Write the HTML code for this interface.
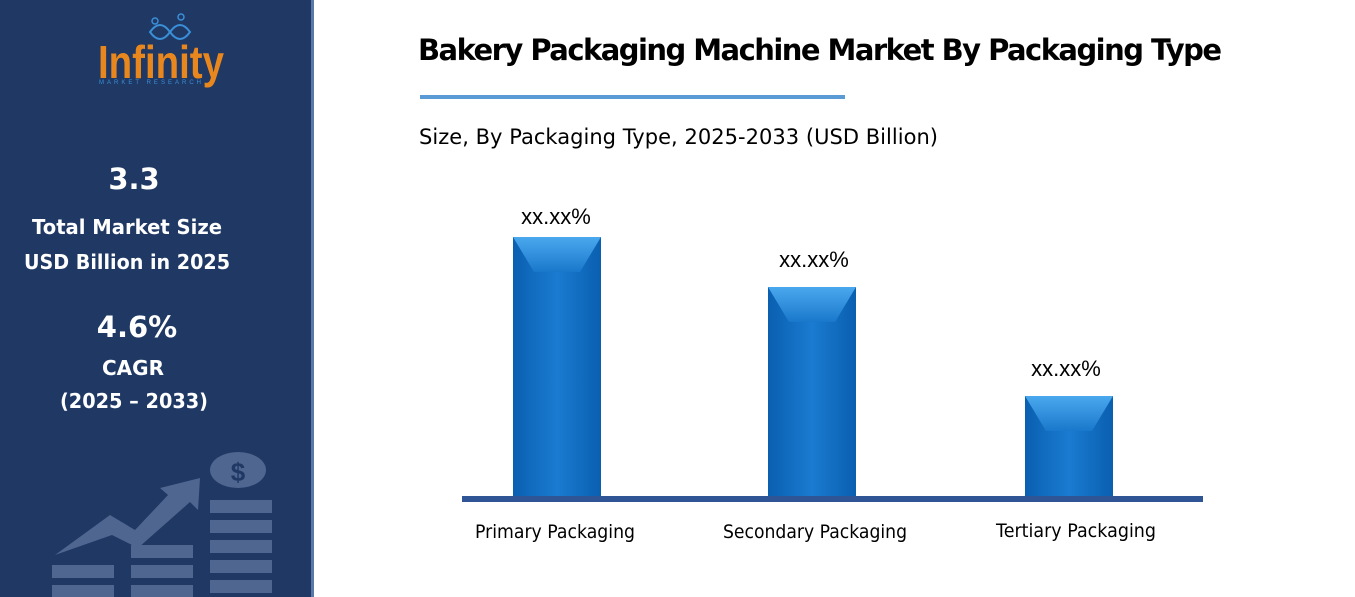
<!DOCTYPE html>
<html><head><meta charset="utf-8"><style>
body{margin:0;width:1355px;height:597px;overflow:hidden;background:#fff;font-family:"Liberation Sans",sans-serif;}
</style></head><body>
<svg width="1355" height="597" xmlns="http://www.w3.org/2000/svg" style="position:absolute;left:0;top:0">
<defs>
<linearGradient id="bg" x1="0" x2="1"><stop offset="0" stop-color="#0a5fb0"/><stop offset="0.5" stop-color="#1a7bd0"/><stop offset="1" stop-color="#0a5fb0"/></linearGradient>
<linearGradient id="tp" x1="0" y1="0" x2="0" y2="1"><stop offset="0" stop-color="#4aa8ee"/><stop offset="1" stop-color="#1a78cc"/></linearGradient>
</defs>
<rect x="0" y="0" width="311" height="597" fill="#1f3864"/>
<rect x="311" y="0" width="3" height="597" fill="#5a78a8"/>
<text x="98" y="78" font-size="46" font-weight="bold" fill="#e8871e" font-family="Liberation Sans Narrow, Liberation Sans, sans-serif" textLength="126" lengthAdjust="spacingAndGlyphs">Infinity</text>
<text x="99" y="84" font-size="6" fill="#3a8fd8" textLength="102" lengthAdjust="spacing">MARKET RESEARCH</text>
<path d="M150 32 q10 -14 20 0 q10 14 20 0 q-10 -14 -20 0 q-10 14 -20 0z" fill="none" stroke="#3a8fd8" stroke-width="2"/>
<circle cx="155" cy="21" r="3" fill="none" stroke="#3a8fd8" stroke-width="1.5"/>
<circle cx="181" cy="17" r="3" fill="none" stroke="#3a8fd8" stroke-width="1.5"/>
<g fill="#fff" font-weight="bold" text-anchor="middle" font-family="DejaVu Sans, sans-serif">
<text x="134" y="189" font-size="29">3.3</text>
<text x="127" y="234" font-size="20" textLength="190" lengthAdjust="spacingAndGlyphs">Total Market Size</text>
<text x="127" y="269" font-size="20" textLength="206" lengthAdjust="spacingAndGlyphs">USD Billion in 2025</text>
<text x="137" y="337" font-size="29">4.6%</text>
<text x="133" y="375" font-size="20">CAGR</text>
<text x="134" y="408" font-size="20" textLength="148" lengthAdjust="spacingAndGlyphs">(2025 – 2033)</text>
</g>
<g fill="#4e6690">
<ellipse cx="238" cy="470" rx="28" ry="18"/>
<rect x="210" y="500" width="62" height="13"/><rect x="210" y="520" width="62" height="13"/><rect x="210" y="540" width="62" height="13"/><rect x="210" y="560" width="62" height="13"/><rect x="210" y="580" width="62" height="13"/>
<rect x="131" y="545" width="62" height="13"/><rect x="131" y="565" width="62" height="13"/><rect x="131" y="585" width="62" height="13"/>
<rect x="52" y="565" width="62" height="13"/><rect x="52" y="585" width="62" height="13"/>
<path d="M55 555 L110 515 L135 530 L168 495 L160 488 L200 478 L198 510 L190 502 L138 548 L112 535z"/>
</g>
<text x="238" y="481" text-anchor="middle" font-size="26" font-weight="bold" fill="#1f3864">$</text>
<text x="418" y="60" font-size="29" font-weight="bold" fill="#000" font-family="DejaVu Sans, sans-serif" textLength="804">Bakery Packaging Machine Market By Packaging Type</text>
<rect x="420" y="95" width="425" height="4" fill="#5b9bd5"/>
<text x="419" y="144" font-size="21" fill="#000" font-family="DejaVu Sans, sans-serif" textLength="519">Size, By Packaging Type, 2025-2033 (USD Billion)</text>
<g>
<rect x="513" y="237" width="88" height="260" fill="url(#bg)"/>
<polygon points="513,237 601,237 580,272 534,272" fill="url(#tp)"/>
<rect x="768" y="287" width="88" height="210" fill="url(#bg)"/>
<polygon points="768,287 856,287 835,322 789,322" fill="url(#tp)"/>
<rect x="1025" y="396" width="88" height="101" fill="url(#bg)"/>
<polygon points="1025,396 1113,396 1092,431 1046,431" fill="url(#tp)"/>
</g>
<rect x="462" y="496" width="741" height="6" fill="#2f5597"/>
<g font-size="22" fill="#000" text-anchor="middle">
<text x="556" y="224">xx.xx%</text>
<text x="814" y="267">xx.xx%</text>
<text x="1066" y="376">xx.xx%</text>
</g>
<g font-size="19" fill="#000" text-anchor="middle" font-family="DejaVu Sans, sans-serif">
<text x="555" y="538" textLength="160" lengthAdjust="spacingAndGlyphs">Primary Packaging</text>
<text x="815" y="538" textLength="184" lengthAdjust="spacingAndGlyphs">Secondary Packaging</text>
<text x="1076" y="537" textLength="160" lengthAdjust="spacingAndGlyphs">Tertiary Packaging</text>
</g>
</svg>
</body></html>
